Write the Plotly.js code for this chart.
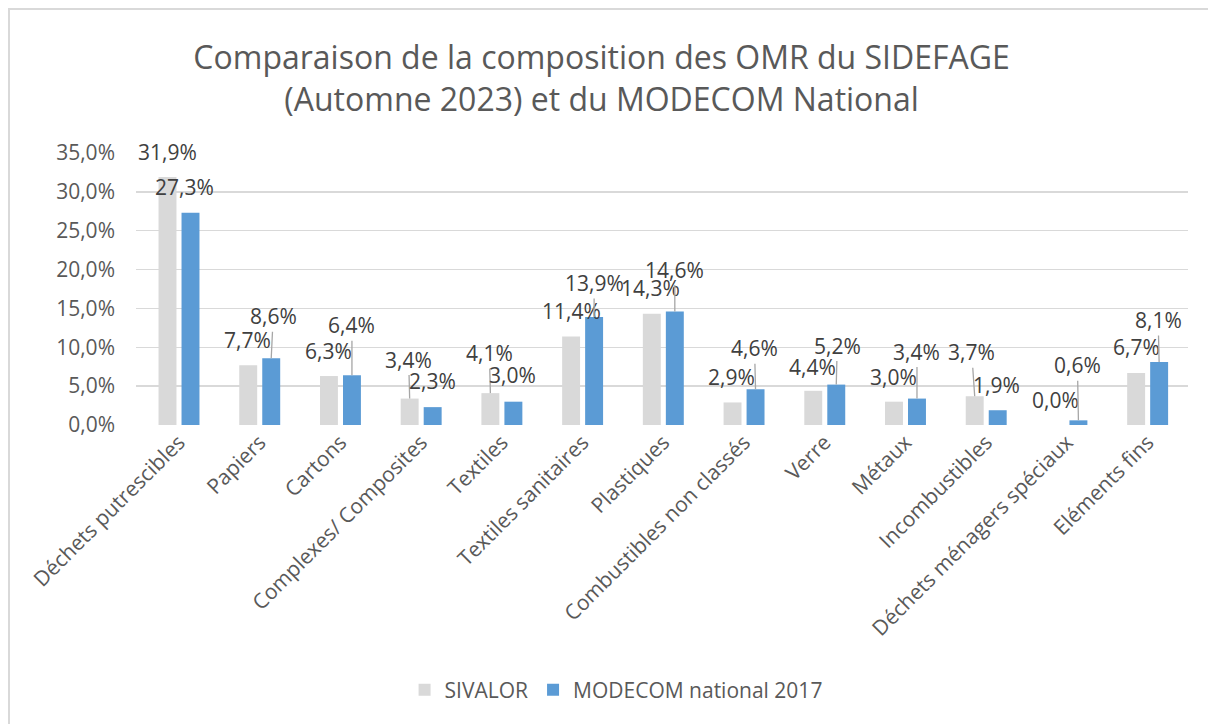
<!DOCTYPE html>
<html>
<head>
<meta charset="utf-8">
<script src="https://cdn.plot.ly/plotly-3.0.1.min.js"></script>
<style>
  html, body { margin: 0; padding: 0; background: #fff; }
  #plot { position: absolute; left: 0; top: 0; width: 1208px; height: 724px; }
  #frame { position: absolute; left: 8px; top: 8px; width: 1300px; height: 800px;
           border-left: 2px solid #d9d9d9; border-top: 2px solid #d9d9d9; pointer-events: none; }
</style>
</head>
<body>
<div id="plot"></div>
<div id="frame"></div>
<script>
// categories and values (in %)
let categories = ['Déchets putrescibles', 'Papiers', 'Cartons', 'Complexes/ Composites', 'Textiles',
  'Textiles sanitaires', 'Plastiques', 'Combustibles non classés', 'Verre', 'Métaux',
  'Incombustibles', 'Déchets ménagers spéciaux', 'Eléments fins'];
let sivalor = [31.9, 7.7, 6.3, 3.4, 4.1, 11.4, 14.3, 2.9, 4.4, 3.0, 3.7, 0.0, 6.7];
let modecom = [27.3, 8.6, 6.4, 2.3, 3.0, 13.9, 14.6, 4.6, 5.2, 3.4, 1.9, 0.6, 8.1];

// label placement (pixels from bar top) and whether a leader line shows
let grayDx = [0, -1, 0, -1, -1, 0, -1, -1, -1, 0, -3, 0, 0];
let grayDy = [-25, -25, -25, -39, -40, -25, -26, -25, -24, -25, -44, -25, -26];
let grayLead = [0, 0, 0, 1, 1, 0, 0, 0, 0, 0, 1, 0, 0];
let blueDx = [-6, 2, 0, 0, -1, 0, 0, -1, 1, 0, -1, -1, -1];
let blueDy = [-26, -42, -50, -26, -27, -34, -42, -41, -39, -47, -25, -55, -42];
let blueLead = [0, 1, 1, 0, 0, 1, 1, 1, 1, 1, 0, 1, 1];

let font = '"Open Sans", "DejaVu Sans", sans-serif';
let bargap = 0.43;

let trace1 = {
  x: categories,
  y: sivalor.map(v => v / 100),
  type: 'bar',
  name: 'SIVALOR',
  marker: {color: '#d9d9d9'},
  hoverinfo: 'skip'
};

let trace2 = {
  x: categories,
  y: modecom.map(v => v / 100),
  type: 'bar',
  name: 'MODECOM national 2017',
  marker: {color: '#5b9bd5'},
  hoverinfo: 'skip'
};

function fmt(v) {
  return v.toFixed(1).replace('.', ',') + '%';
}

// data labels
let annotations = [];
let shift = (1 - bargap) / 4;
function addLabels(values, side, dx, dy, lead) {
  values.forEach(function (v, i) {
    annotations.push({
      x: i + side * shift,
      y: v / 100,
      xref: 'x', yref: 'y',
      text: fmt(v),
      showarrow: true,
      arrowhead: 0,
      arrowwidth: 1.3,
      arrowcolor: lead[i] ? '#a6a6a6' : 'rgba(0,0,0,0)',
      ax: dx[i], ay: dy[i],
      standoff: 0,
      borderpad: 1,
      font: {family: font, size: 21, color: '#404040'}
    });
  });
}
addLabels(sivalor, -1, grayDx, grayDy, grayLead);
addLabels(modecom, 1, blueDx, blueDy, blueLead);

let layout = {
  width: 1208,
  height: 724,
  separators: ', ',
  paper_bgcolor: '#fff',
  plot_bgcolor: '#fff',
  margin: {l: 136, r: 20, t: 153, b: 299},
  font: {family: font, color: '#595959'},
  title: {
    text: 'Comparaison de la composition des OMR du SIDEFAGE<br>(Automne 2023) et du MODECOM National',
    font: {family: font, size: 32, color: '#595959'},
    xref: 'container', x: 0.498, xanchor: 'center',
    yref: 'container', y: 1 - 69 / 724, yanchor: 'middle'
  },
  barmode: 'group',
  bargap: bargap,
  bargroupgap: 0.22,
  showlegend: true,
  legend: {
    orientation: 'h',
    xref: 'container', x: 0.51, xanchor: 'center',
    yref: 'container', y: 1 - 690 / 724, yanchor: 'middle',
    font: {family: font, size: 21, color: '#595959'},
    itemwidth: 30
  },
  xaxis: {
    type: 'category',
    tickangle: -45,
    tickfont: {family: font, size: 21, color: '#595959'},
    showgrid: false,
    showline: false,
    zeroline: false,
    ticks: ''
  },
  yaxis: {
    range: [0, 0.35],
    dtick: 0.05,
    tickformat: '.1%',
    tickfont: {family: font, size: 21, color: '#595959'},
    gridcolor: '#d9d9d9',
    gridwidth: 1.5,
    zeroline: false,
    showline: false,
    ticklabelstandoff: 20
  },
  annotations: annotations
};

Plotly.newPlot('plot', [trace1, trace2], layout, {displayModeBar: false, staticPlot: true});
</script>
</body>
</html>
